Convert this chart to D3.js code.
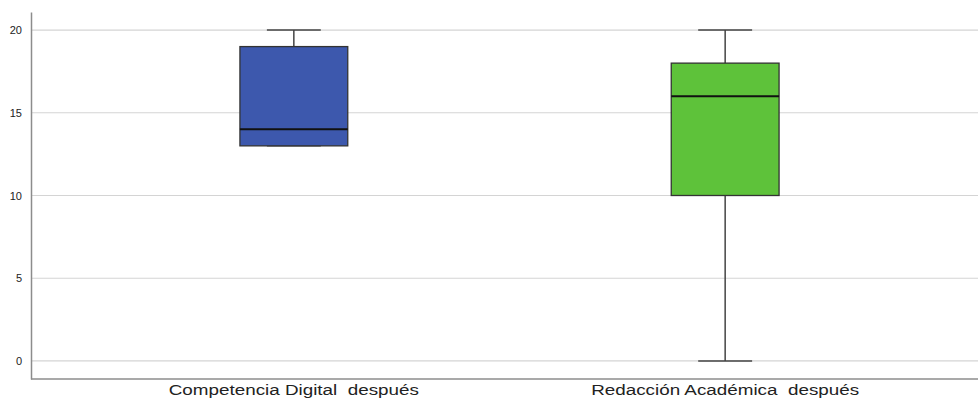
<!DOCTYPE html>
<html><head><meta charset="utf-8">
<script src="https://cdn.jsdelivr.net/npm/d3@7"></script>
<style>body{margin:0;background:#fff}svg{display:block}</style>
</head><body>
<svg id="c" width="978" height="398"></svg>
<script>
const categories = ["Competencia Digital  después", "Redacción Académica  después"];
const mins    = [13, 0];
const q1s     = [13, 10];
const medians = [14, 16];
const q3s     = [19, 18];
const maxs    = [20, 20];
const colors  = ["#3d58ad", "#5ec23a"];
const yTicks  = [0, 5, 10, 15, 20];

const W = 978, H = 398;
const m = {left: 31, right: 0, top: 12, bottom: 19};
const svg = d3.select("#c");
const y = d3.scaleLinear().domain([-1.09, 21.09]).range([H - m.bottom, m.top]);
const x = d3.scaleBand().domain(categories).range([m.left, 988]).paddingInner(0.75).paddingOuter(0.4844);

// grid
svg.append("g").selectAll("line").data(yTicks).join("line")
  .attr("x1", m.left).attr("x2", W).attr("y1", d => y(d)).attr("y2", d => y(d))
  .attr("stroke", "#d4d4d4").attr("stroke-width", 1.2);

// y axis
const ya = svg.append("g").attr("transform", `translate(${m.left},0)`)
  .call(d3.axisLeft(y).tickValues(yTicks).tickSize(0).tickPadding(9));
ya.select(".domain").attr("stroke", "#8c8c8c").attr("stroke-width", 1.5);
ya.selectAll("text").attr("font-family", "Liberation Sans, Arial, sans-serif").attr("font-size", 11).attr("fill", "#222");

// x axis
const xa = svg.append("g").attr("transform", `translate(0,${H - m.bottom})`)
  .call(d3.axisBottom(x).tickSize(0).tickPadding(5));
xa.select(".domain").attr("stroke", "#8c8c8c").attr("stroke-width", 1.5).attr("d", `M${m.left},0H${W}`);
xa.selectAll("text").attr("font-family", "Liberation Sans, Arial, sans-serif").attr("font-size", 14.5)
  .attr("fill", "#222").style("white-space", "pre").attr("y", 0).attr("dy", 0)
  .attr("transform", "translate(0,15.5) scale(1.3,1)");

const data = categories.map((c, i) => ({c, min: mins[i], q1: q1s[i], med: medians[i], q3: q3s[i], max: maxs[i], col: colors[i]}));
const g = svg.append("g").selectAll("g").data(data).join("g");
const bw = x.bandwidth();
const cx = d => x(d.c) + bw / 2;
// whiskers
g.append("line").attr("x1", cx).attr("x2", cx).attr("y1", d => y(d.max)).attr("y2", d => y(d.q3)).attr("stroke", "#444").attr("stroke-width", 1.5);
g.append("line").attr("x1", cx).attr("x2", cx).attr("y1", d => y(d.q1)).attr("y2", d => y(d.min)).attr("stroke", "#444").attr("stroke-width", 1.5);
g.append("line").attr("x1", d => cx(d) - bw / 4).attr("x2", d => cx(d) + bw / 4).attr("y1", d => y(d.max)).attr("y2", d => y(d.max)).attr("stroke", "#444").attr("stroke-width", 1.5);
g.append("line").attr("x1", d => cx(d) - bw / 4).attr("x2", d => cx(d) + bw / 4).attr("y1", d => y(d.min)).attr("y2", d => y(d.min)).attr("stroke", "#444").attr("stroke-width", 1.5);
// box
g.append("rect").attr("x", d => x(d.c)).attr("width", bw)
  .attr("y", d => y(d.q3)).attr("height", d => y(d.q1) - y(d.q3))
  .attr("fill", d => d.col).attr("stroke", "#333").attr("stroke-width", 1.3);
// median
g.append("line").attr("x1", d => x(d.c)).attr("x2", d => x(d.c) + bw).attr("y1", d => y(d.med)).attr("y2", d => y(d.med)).attr("stroke", "#111").attr("stroke-width", 2);
</script>
</body></html>
